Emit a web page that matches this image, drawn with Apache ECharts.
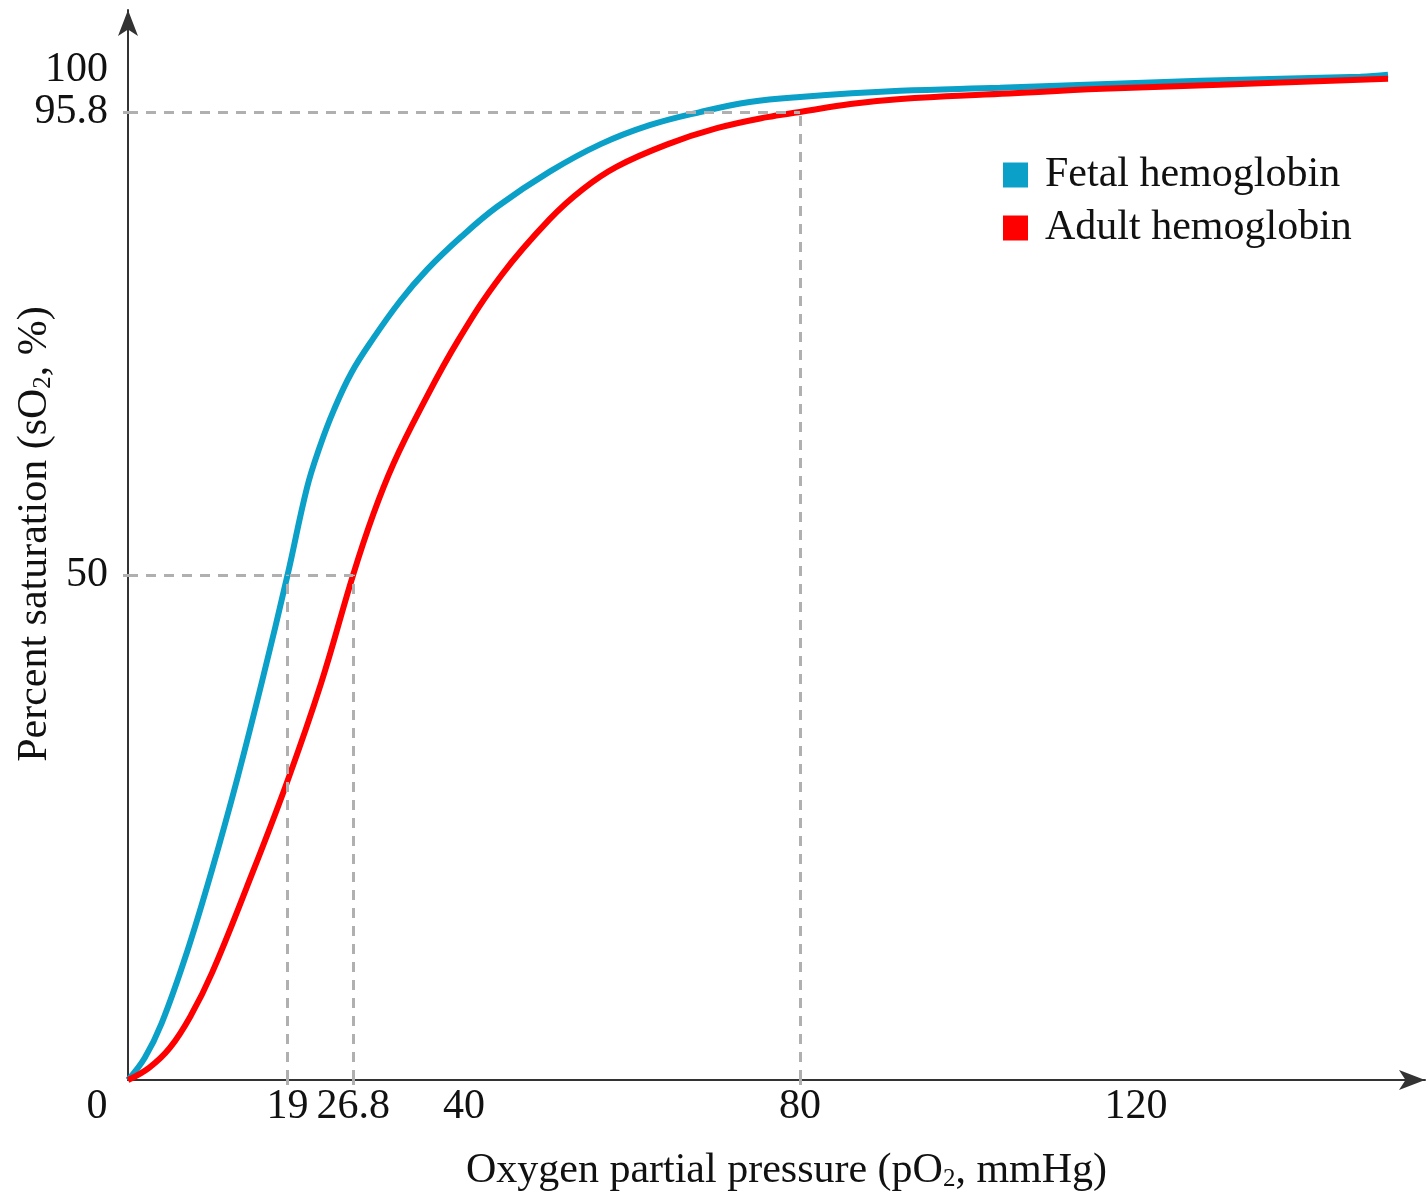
<!DOCTYPE html>
<html>
<head>
<meta charset="utf-8">
<script src="https://cdn.jsdelivr.net/npm/echarts@6/dist/echarts.min.js"></script>
<style>
  html, body { margin: 0; padding: 0; background: #ffffff; }
  #chart { width: 1428px; height: 1198px; }
</style>
</head>
<body>
<div id="chart"></div>
<script>
// ---- Data ----
const fetalPO2 = [0, 2.0, 4.0, 7.0, 10.0, 13.0, 16.0, 19.0, 21.3, 22.8, 24.5, 26.6, 29.2, 32.4, 35.6, 39.6, 43.9, 50.2, 56.2, 62.1, 68.1, 74.0, 80, 91.9, 103.8, 127.6, 146.7, 150];
const fetalSat = [0, 2.2, 5.6, 12.6, 20.8, 29.8, 39.6, 50, 58.6, 62.6, 66.3, 70.0, 73.4, 77.1, 80.2, 83.4, 86.4, 89.9, 92.6, 94.5, 95.8, 96.8, 97.3, 97.9, 98.2, 98.9, 99.3, 99.5];

const adultPO2 = [0, 2.5, 5.0, 7.5, 10.0, 14.1, 18.9, 23.0, 26.8, 29.2, 31.6, 34.8, 39.3, 44.5, 50.2, 54.2, 58.2, 64.2, 70.1, 76.1, 80, 86, 92, 104, 116, 130, 150];
const adultSat = [0, 1.2, 3.2, 6.4, 10.6, 19.0, 29.4, 39.3, 50, 56.0, 61.0, 66.4, 73.2, 79.7, 85.2, 88.2, 90.4, 92.6, 94.2, 95.3, 95.8, 96.6, 97.1, 97.6, 98.1, 98.5, 99.1];

// guide (dashed) lines: x value and y value of each marked point
const guideX = [19, 26.8, 80];
const guideY = [50, 50, 95.8];

// tick labels
const xTicks = [0, 19, 26.8, 40, 80, 120];
const yTicks = [50, 95.8, 100];

const seriesNames = ['Fetal hemoglobin', 'Adult hemoglobin'];
const FONT = 'Liberation Serif';
const FS = 42;

function zip(xs, ys) { return xs.map((x, i) => [x, ys[i]]); }

const guideLines = [];
guideX.forEach((gx, i) => {
  const gy = guideY[i];
  guideLines.push([{ coord: [gx, 0] }, { coord: [gx, gy] }]);
  guideLines.push([{ coord: [0, gy] }, { coord: [gx, gy] }]);
});

const chart = echarts.init(document.getElementById('chart'), null, { renderer: 'canvas' });

const option = {
  backgroundColor: '#ffffff',
  animation: false,
  textStyle: { fontFamily: FONT },
  grid: { left: 128, right: 3, top: 10, bottom: 118, containLabel: false, outerBoundsMode: 'none' },
  legend: {
    data: seriesNames,
    orient: 'vertical',
    left: 1003,
    top: 154,
    padding: 0,
    icon: 'rect',
    itemWidth: 25,
    itemHeight: 25,
    itemGap: 11,
    textStyle: { fontFamily: FONT, fontSize: FS, color: '#111', lineHeight: FS, padding: [0, 0, 0, 12] }
  },
  xAxis: {
    type: 'value',
    min: 0,
    max: 154.4,
    name: '{t|Oxygen partial pressure (pO}{s|2}{t|, mmHg)}',
    nameLocation: 'middle',
    nameGap: 70,
    nameMoveOverlap: false,
    nameTextStyle: {
      padding: [0, 0, 0, 20],
      rich: {
        t: { fontFamily: FONT, fontSize: FS, color: '#111', lineHeight: FS },
        s: { fontFamily: FONT, fontSize: 25, color: '#111', lineHeight: 10, verticalAlign: 'bottom' }
      }
    },
    axisLine: {
      show: true,
      lineStyle: { color: '#333', width: 2 },
      symbol: ['none', 'arrow'],
      symbolSize: [15, 26]
    },
    axisTick: {
      show: true,
      customValues: guideX,
      length: 5,
      lineStyle: { color: '#b0b0b0', width: 3 }
    },
    axisLabel: {
      customValues: xTicks,
      margin: 6,
      fontFamily: FONT,
      fontSize: FS,
      color: '#111',
      formatter: function (v) { return v === 0 ? '{z|0}' : String(v); },
      rich: { z: { fontFamily: FONT, fontSize: FS, color: '#111', padding: [0, 62, 0, 0] } }
    },
    splitLine: { show: false }
  },
  yAxis: {
    type: 'value',
    min: 0,
    max: 105.9,
    name: '{t|Percent saturation (sO}{s|2}{t|, %)}',
    nameLocation: 'middle',
    nameRotate: 90,
    nameGap: 72,
    nameMoveOverlap: false,
    nameTextStyle: {
      padding: [0, 0, 0, 22],
      rich: {
        t: { fontFamily: FONT, fontSize: FS, color: '#111', lineHeight: FS },
        s: { fontFamily: FONT, fontSize: 25, color: '#111', lineHeight: 10, verticalAlign: 'bottom' }
      }
    },
    axisLine: {
      show: true,
      lineStyle: { color: '#333', width: 2 },
      symbol: ['none', 'arrow'],
      symbolSize: [15, 26]
    },
    axisTick: {
      show: true,
      customValues: [50, 95.8],
      length: 5,
      lineStyle: { color: '#b0b0b0', width: 3 }
    },
    axisLabel: {
      customValues: yTicks,
      margin: 20,
      fontFamily: FONT,
      fontSize: FS,
      color: '#111'
    },
    splitLine: { show: false }
  },
  series: [
    {
      name: 'guides',
      type: 'line',
      data: [],
      z: 1,
      silent: true,
      markLine: {
        silent: true,
        symbol: ['none', 'none'],
        label: { show: false },
        lineStyle: { type: [10, 8], color: '#b0b0b0', width: 3 },
        emphasis: { disabled: true },
        data: guideLines
      }
    },
    {
      name: seriesNames[0],
      type: 'line',
      data: zip(fetalPO2, fetalSat),
      smooth: 0.4,
      showSymbol: false,
      z: 3,
      lineStyle: { color: '#0aa0c8', width: 6 },
      itemStyle: { color: '#0aa0c8' }
    },
    {
      name: seriesNames[1],
      type: 'line',
      data: zip(adultPO2, adultSat),
      smooth: 0.4,
      showSymbol: false,
      z: 4,
      lineStyle: { color: '#ff0000', width: 6 },
      itemStyle: { color: '#ff0000' }
    }
  ]
};

chart.setOption(option);
</script>
</body>
</html>
